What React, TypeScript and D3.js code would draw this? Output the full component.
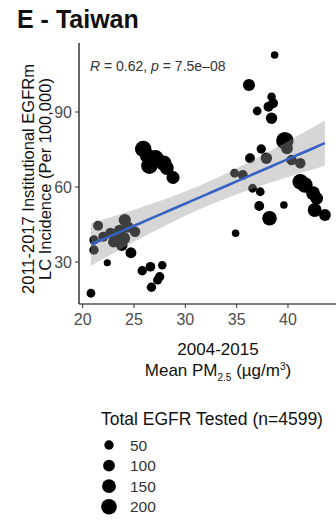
import React from 'react';
import * as d3 from 'd3';

// 2004-2015 mean PM2.5 per hospital (x), EGFRm LC incidence (y), EGFR tested (size)
const pm25 = [
  20.8, 21.5, 21.1, 21.1, 22.4, 22.0, 22.7, 23.2, 23.6, 24.1, 23.8, 24.0, 24.4, 25.1, 23.0,
  24.7, 25.8, 26.6, 27.75, 27.5, 27.3, 26.7,
  25.9, 27.1, 26.5, 27.9, 28.2, 28.8, 26.3,
  38.7, 36.2, 38.4, 38.55, 38.1, 37.0, 38.4, 39.7, 37.4, 36.3, 37.9, 39.9, 40.35, 41.2,
  34.8, 35.6, 36.55, 37.3, 41.2, 41.65, 42.45, 42.8, 37.2, 39.6, 38.2, 42.6, 43.6, 34.9,
];
const incidence = [
  17.5, 44.5, 34.8, 38.8, 29.7, 40.1, 41.6, 40.5, 42.5, 46.8, 36.8, 39.5, 44.0, 42.1, 38.0,
  33.7, 26.5, 28.1, 28.7, 24.1, 22.8, 19.9,
  75.2, 71.5, 68.5, 69.5, 67.6, 63.8, 72.5,
  112.8, 100.8, 96.1, 93.5, 92.1, 90.4, 87.5, 78.5, 75.2, 71.5, 71.5, 75.5, 70.8, 69.5,
  65.5, 64.8, 59.5, 58.1, 62.1, 60.8, 57.5, 55.5, 52.4, 52.8, 47.5, 50.8, 48.8, 41.5,
];
const tested = [
  40, 60, 50, 50, 15, 60, 70, 90, 100, 110, 100, 120, 90, 70, 80,
  80, 50, 55, 35, 50, 45, 50,
  230, 220, 230, 200, 150, 130, 180,
  20, 110, 35, 60, 60, 40, 90, 260, 50, 60, 90, 100, 70, 70,
  40, 60, 40, 40, 200, 200, 150, 120, 60, 20, 170, 150, 100, 20,
];

const xTicks = [20, 25, 30, 35, 40];
const yTicks = [30, 60, 90];
const sizeBreaks = [50, 100, 150, 200];

const W = 336;
const H = 520;
const font = '"Liberation Sans", Arial, Helvetica, sans-serif';

const App: React.FC = () => {
  const left = 79, right = 336, top = 43, bottom = 304;

  const x = d3.scaleLinear().domain([19.64, 44.68]).range([left, right]);
  const y = d3.scaleLinear().domain([13.2, 117.6]).range([bottom, top]);
  const r = d3.scaleRadial().domain([0, 200]).range([3, 7.8]);

  // lm fit with 95% confidence band (like geom_smooth(method = "lm"))
  const n = pm25.length;
  const mx = d3.mean(pm25) ?? 0;
  const my = d3.mean(incidence) ?? 0;
  const sxx = d3.sum(pm25, d => (d - mx) ** 2);
  const sxy = d3.sum(pm25, (d, i) => (d - mx) * (incidence[i] - my));
  const slope = sxy / sxx;
  const icpt = my - slope * mx;
  const sse = d3.sum(pm25, (d, i) => (incidence[i] - (icpt + slope * d)) ** 2);
  const s = Math.sqrt(sse / (n - 2));
  const tq = 2.005;
  const [x0, x1] = d3.extent(pm25) as [number, number];
  const grid = d3.range(0, 81).map(i => x0 + ((x1 - x0) * i) / 80);
  const fit = grid.map(g => {
    const yh = icpt + slope * g;
    const se = s * Math.sqrt(1 / n + (g - mx) ** 2 / sxx);
    return { g, yh, lo: yh - tq * se, hi: yh + tq * se };
  });

  const band = d3.area<typeof fit[0]>()
    .x(d => x(d.g))
    .y0(d => y(d.lo))
    .y1(d => y(d.hi))(fit) ?? '';
  const line = d3.line<typeof fit[0]>()
    .x(d => x(d.g))
    .y(d => y(d.yh))(fit) ?? '';

  const pts = pm25.map((d, i) => ({ px: d, py: incidence[i], n: tested[i] }));

  return (
    <svg width={W} height={H} style={{ position: 'absolute', left: 0, top: 0, background: '#fff' }} fontFamily={font}>
      <defs>
        <clipPath id="panel">
          <rect x={left} y={top} width={right - left} height={bottom - top} />
        </clipPath>
      </defs>

      <text x={17} y={28} fontSize={25} fontWeight="bold" fill="#111">E - Taiwan</text>

      <g clipPath="url(#panel)">
        {pts.map((p, i) => (
          <circle key={i} cx={x(p.px)} cy={y(p.py)} r={r(p.n)} fill="#000" />
        ))}
        <path d={band} fill="#999999" fillOpacity={0.4} />
        <path d={line} fill="none" stroke="#3762c4" strokeWidth={2.6} />
      </g>

      <text x={90} y={71} fontSize={14} fill="#333">
        <tspan fontStyle="italic">R</tspan>
        <tspan> = 0.62, </tspan>
        <tspan fontStyle="italic">p</tspan>
        <tspan> = 7.5e</tspan>
        <tspan>{'\u2013'}08</tspan>
      </text>

      {/* axes */}
      <line x1={left} x2={left} y1={top} y2={bottom} stroke="#000" strokeWidth={1.2} />
      <line x1={left} x2={right} y1={bottom} y2={bottom} stroke="#000" strokeWidth={1.2} />
      {xTicks.map(t => (
        <g key={t} transform={`translate(${x(t)},${bottom})`}>
          <line y2={4} stroke="#333" />
          <text y={21} textAnchor="middle" fontSize={16} fill="#4d4d4d">{t}</text>
        </g>
      ))}
      {yTicks.map(t => (
        <g key={t} transform={`translate(${left},${y(t)})`}>
          <line x2={-4} stroke="#333" />
          <text x={-7} dy="0.36em" textAnchor="end" fontSize={16} fill="#4d4d4d">{t}</text>
        </g>
      ))}

      <text x={218} y={355} textAnchor="middle" fontSize={17} fill="#111">2004-2015</text>
      <text x={218} y={376} textAnchor="middle" fontSize={17} fill="#111">
        Mean PM<tspan fontSize={10} dy={5}>2.5</tspan><tspan dy={-5}> (µg/m</tspan><tspan fontSize={10} dy={-6}>3</tspan><tspan dy={6}>)</tspan>
      </text>

      <g transform="translate(0,179) rotate(-90)">
        <text x={0} y={34} textAnchor="middle" fontSize={16.5} fill="#111">2011-2017 Institutional EGFRm</text>
        <text x={0} y={51} textAnchor="middle" fontSize={16.5} fill="#111">LC Incidence (Per 100,000)</text>
      </g>

      {/* size legend */}
      <text x={101} y={425} fontSize={17.5} fill="#111">Total EGFR Tested (n=4599)</text>
      {sizeBreaks.map((b, i) => (
        <g key={b} transform={`translate(109,${445 + i * 20.6})`}>
          <circle r={r(b)} fill="#000" />
          <text x={21} dy="0.36em" fontSize={15.5} fill="#333">{b}</text>
        </g>
      ))}
    </svg>
  );
};

export default App;
